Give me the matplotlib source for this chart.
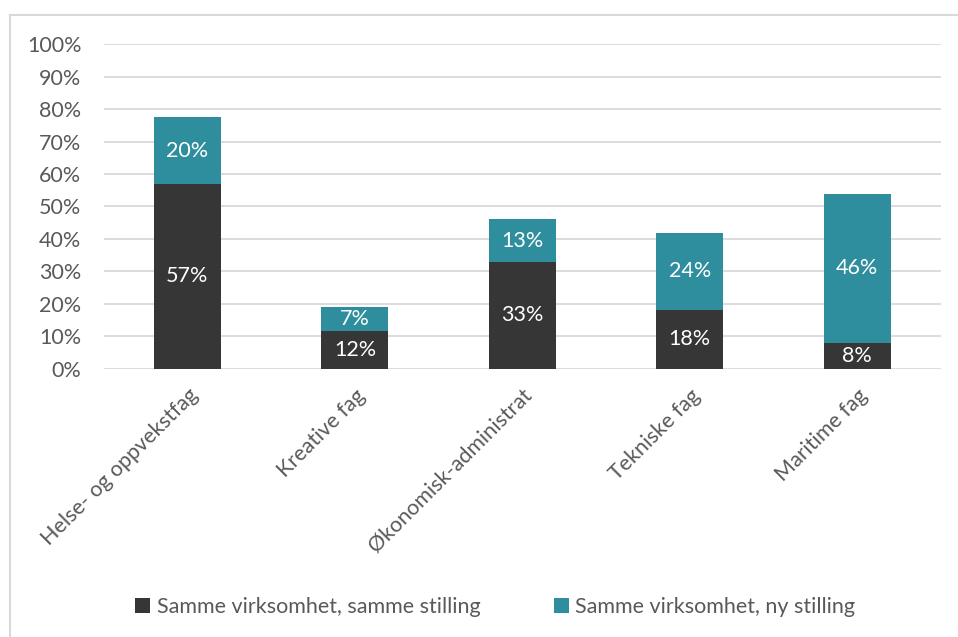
import numpy as np
import matplotlib
matplotlib.use("Agg")
from matplotlib import pyplot as plt
from matplotlib.patches import Patch
from matplotlib.lines import Line2D

# data
categories = ["Helse- og oppvekstfag", "Kreative fag", "Økonomisk-administrat",
              "Tekniske fag", "Maritime fag"]
same_position = [57.0, 11.7, 32.9, 18.2, 8.0]
new_position = [20.5, 7.3, 13.1, 23.7, 45.9]
same_labels = ["57%", "12%", "33%", "18%", "8%"]
new_labels = ["20%", "7%", "13%", "24%", "46%"]
series_names = ["Samme virksomhet, samme stilling", "Samme virksomhet, ny stilling"]

dark = "#363636"
teal = "#2E8E9E"
grid_col = "#D9D9D9"
text_col = "#595959"

plt.rcParams["font.family"] = ["Lato", "DejaVu Sans"]

fig = plt.figure(figsize=(9.58, 6.37), dpi=100)
ax = fig.add_axes([0.1082, 0.4212, 0.8741, 0.5093])

x = np.arange(len(categories))
ax.bar(x, same_position, width=0.4, color=dark, zorder=3)
ax.bar(x, new_position, width=0.4, bottom=same_position, color=teal, zorder=3)

# labels inside the segments
for i in range(len(categories)):
    ax.text(x[i], same_position[i] / 2, same_labels[i], ha="center", va="center",
            color="white", fontsize=15.5, zorder=4)
    ax.text(x[i], same_position[i] + new_position[i] / 2, new_labels[i], ha="center",
            va="center", color="white", fontsize=15.5, zorder=4)

ax.set_xlim(-0.5, len(categories) - 0.5)
ax.set_ylim(0, 100)
ax.set_yticks(np.arange(0, 101, 10))
ax.set_yticklabels([f"{v}%" for v in range(0, 101, 10)])
ax.yaxis.grid(True, color=grid_col, linewidth=1.3, zorder=0)
ax.set_axisbelow(True)
for s in ax.spines.values():
    s.set_visible(False)
ax.tick_params(axis="both", length=0, labelsize=15.5, labelcolor=text_col)
ax.tick_params(axis="y", pad=16)
ax.set_xticks(x)
ax.set_xticklabels(categories, rotation=45, ha="right", rotation_mode="anchor")
ax.tick_params(axis="x", pad=12)

# legend at the bottom
handles = [Patch(facecolor=dark), Patch(facecolor=teal)]
fig.legend(handles, series_names, loc="center", bbox_to_anchor=(0.517, 0.047), ncol=2,
           frameon=False, fontsize=15.5, labelcolor=text_col, handlelength=0.7,
           handleheight=0.7, handletextpad=0.3, columnspacing=3.4)

# chart-area border (only top and left visible in the crop)
fig.add_artist(Line2D([10 / 958, 1.0], [1 - 15 / 637, 1 - 15 / 637],
                      transform=fig.transFigure, color=grid_col, linewidth=1.5))
fig.add_artist(Line2D([10 / 958, 10 / 958], [0, 1 - 15 / 637],
                      transform=fig.transFigure, color=grid_col, linewidth=1.5))

fig.savefig("out.png", dpi=100)
